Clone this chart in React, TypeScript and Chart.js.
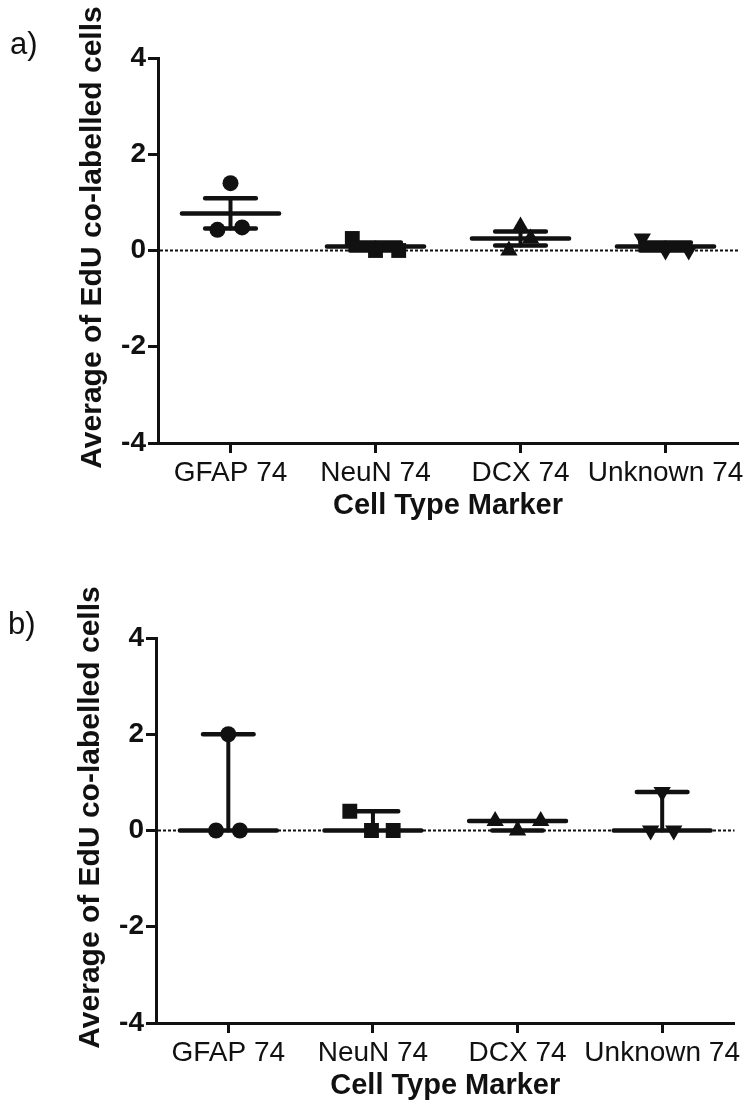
import React, { useEffect, useRef } from 'react';
import { Chart, registerables } from 'chart.js';

Chart.register(...registerables);

// ---------- data ----------
const CATEGORIES = ['GFAP 74', 'NeuN 74', 'DCX 74', 'Unknown 74'];
const Y_TICKS = [-4, -2, 0, 2, 4];
const Y_TITLE = 'Average of EdU co-labelled cells';
const X_TITLE = 'Cell Type Marker';
const PANEL_LABELS = ['a)', 'b)'];

// panel a (mean ± SEM)
const A_GFAP = [1.4, 0.43, 0.48];
const A_NEUN = [0.25, 0, 0];
const A_DCX = [0.5, 0, 0.25];
const A_UNKNOWN = [0.25, 0, 0];

// panel b (median with range)
const B_GFAP = [2, 0, 0];
const B_NEUN = [0.4, 0, 0];
const B_DCX = [0.2, 0, 0.2];
const B_UNKNOWN = [0.8, 0, 0];

// ---------- style ----------
const FONT = '"Liberation Sans", Arial, sans-serif';
const INK = '#111';
// horizontal scatter of the points inside a category (category units)
const JITTER_A = [[0, -0.09, 0.08], [-0.16, 0, 0.16], [0, -0.08, 0.07], [-0.16, 0, 0.16]];
const JITTER_B = [[0, -0.085, 0.08], [-0.16, -0.01, 0.14], [-0.155, 0, 0.16], [0, -0.08, 0.08]];
const MARKERS = [
  { pointStyle: 'circle', radius: 8, rotation: 0 },
  { pointStyle: 'rect', radius: 10.5, rotation: 0 },
  { pointStyle: 'triangle', radius: 10, rotation: 0 },
  { pointStyle: 'triangle', radius: 10, rotation: 180 },
];

function meanSem(v: number[]) {
  const n = v.length;
  const m = v.reduce((a, b) => a + b, 0) / n;
  const sd = Math.sqrt(v.reduce((a, b) => a + (b - m) * (b - m), 0) / (n - 1));
  const se = sd / Math.sqrt(n);
  return { center: m, low: m - se, high: m + se };
}
function medianRange(v: number[]) {
  const s = [...v].sort((a, b) => a - b);
  return { center: s[Math.floor(s.length / 2)], low: s[0], high: s[s.length - 1] };
}

function makeOverlay(groups: number[][], mode: 'mean' | 'median', label: string) {
  return {
    id: 'overlay',
    beforeDatasetsDraw(chart: any) {
      const { ctx, chartArea, scales } = chart;
      const y0 = scales.y.getPixelForValue(0);
      ctx.save();
      ctx.strokeStyle = INK;
      ctx.lineWidth = 2;
      ctx.setLineDash([3, 2]);
      ctx.beginPath();
      ctx.moveTo(chartArea.left + 2, y0);
      ctx.lineTo(chartArea.right, y0);
      ctx.stroke();
      ctx.restore();
    },
    afterDatasetsDraw(chart: any) {
      const { ctx, scales } = chart;
      const x = scales.x;
      const y = scales.y;
      ctx.save();
      ctx.strokeStyle = INK;
      ctx.lineCap = 'round';
      groups.forEach((vals, i) => {
        const s = mode === 'mean' ? meanSem(vals) : medianRange(vals);
        const cx = x.getPixelForValue(i + 1);
        const half = x.getPixelForValue(i + 1 + 0.335) - cx;
        const cap = x.getPixelForValue(i + 1 + 0.175) - cx;
        const yc = y.getPixelForValue(s.center);
        const yl = y.getPixelForValue(s.low);
        const yh = y.getPixelForValue(s.high);
        ctx.lineWidth = 4;
        ctx.beginPath();
        ctx.moveTo(cx, yl);
        ctx.lineTo(cx, yh);
        ctx.stroke();
        ctx.lineWidth = 4.5;
        ctx.beginPath();
        ctx.moveTo(cx - cap, yl);
        ctx.lineTo(cx + cap, yl);
        ctx.moveTo(cx - cap, yh);
        ctx.lineTo(cx + cap, yh);
        ctx.moveTo(cx - half, yc);
        ctx.lineTo(cx + half, yc);
        ctx.stroke();
      });
      ctx.restore();
    },
    afterDraw(chart: any) {
      const { ctx, chartArea } = chart;
      ctx.save();
      ctx.fillStyle = INK;
      ctx.font = `31px ${FONT}`;
      ctx.textAlign = 'left';
      ctx.textBaseline = 'alphabetic';
      ctx.fillText(label, 10, 54);
      ctx.font = `bold 30px ${FONT}`;
      ctx.textAlign = 'center';
      ctx.translate(101, (chartArea.top + chartArea.bottom) / 2 - 13);
      ctx.rotate(-Math.PI / 2);
      ctx.fillText(Y_TITLE, 0, 0);
      ctx.restore();
    },
  };
}

type PanelProps = {
  groups: number[][];
  jitter: number[][];
  mode: 'mean' | 'median';
  label: string;
  top: number;
  left: number;
  padRight: number;
};

function Panel({ groups, jitter, mode, label, top, left, padRight }: PanelProps) {
  const ref = useRef<HTMLCanvasElement>(null);
  useEffect(() => {
    const datasets = groups.map((vals, i) => ({
      label: CATEGORIES[i],
      data: vals.map((v, j) => ({ x: i + 1 + jitter[i][j], y: v })),
      pointStyle: MARKERS[i].pointStyle,
      pointRadius: MARKERS[i].radius,
      pointRotation: MARKERS[i].rotation,
      pointBackgroundColor: INK,
      pointBorderColor: INK,
      pointBorderWidth: 0,
      showLine: false,
    }));
    const chart = new Chart(ref.current as HTMLCanvasElement, {
      type: 'scatter',
      data: { datasets },
      plugins: [makeOverlay(groups, mode, label)],
      options: {
        animation: false,
        responsive: false,
        events: [],
        layout: { padding: { top: 58, right: padRight, bottom: 37, left: 0 } },
        plugins: { legend: { display: false }, tooltip: { enabled: false } },
        scales: {
          x: {
            type: 'linear',
            min: 0.5,
            max: 4.5,
            afterBuildTicks: (scale: any) => {
              scale.ticks = CATEGORIES.map((_, i) => ({ value: i + 1 }));
            },
            afterFit: (scale: any) => {
              scale.height = 80;
            },
            ticks: {
              autoSkip: false,
              maxRotation: 0,
              minRotation: 0,
              padding: 3,
              color: INK,
              font: { family: FONT, size: 28 },
              callback: (v: any) => CATEGORIES[Math.round(Number(v)) - 1],
            },
            grid: {
              drawOnChartArea: false,
              drawTicks: true,
              tickLength: 10,
              tickColor: INK,
              tickWidth: 3,
              color: INK,
            },
            border: { display: true, color: INK, width: 3 },
            title: {
              display: true,
              text: X_TITLE,
              color: INK,
              font: { family: FONT, size: 29, weight: 'bold' },
              padding: { top: 0, bottom: 0 },
            },
          },
          y: {
            type: 'linear',
            min: -4,
            max: 4,
            afterBuildTicks: (scale: any) => {
              scale.ticks = Y_TICKS.map((v) => ({ value: v }));
            },
            afterFit: (scale: any) => {
              scale.width = 158;
            },
            ticks: {
              padding: 2,
              color: INK,
              font: { family: FONT, size: 28, weight: 'bold' },
            },
            grid: {
              drawOnChartArea: false,
              drawTicks: true,
              tickLength: 10,
              tickColor: INK,
              tickWidth: 3,
              color: INK,
            },
            border: { display: true, color: INK, width: 3 },
          },
        },
      } as any,
    });
    return () => chart.destroy();
  }, []);
  return (
    <canvas
      ref={ref}
      width={753}
      height={560}
      style={{ position: 'absolute', left, top, display: 'block', width: 753, height: 560 }}
    />
  );
}

export default function App() {
  return (
    <div style={{ position: 'absolute', left: 0, top: 0, width: 753, height: 1118, overflow: 'hidden', background: '#fff' }}>
      <Panel
        groups={[A_GFAP, A_NEUN, A_DCX, A_UNKNOWN]}
        jitter={JITTER_A}
        mode="mean"
        label={PANEL_LABELS[0]}
        top={0}
        left={0}
        padRight={15}
      />
      <Panel
        groups={[B_GFAP, B_NEUN, B_DCX, B_UNKNOWN]}
        jitter={JITTER_B}
        mode="median"
        label={PANEL_LABELS[1]}
        top={580}
        left={-2}
        padRight={16.5}
      />
    </div>
  );
}
